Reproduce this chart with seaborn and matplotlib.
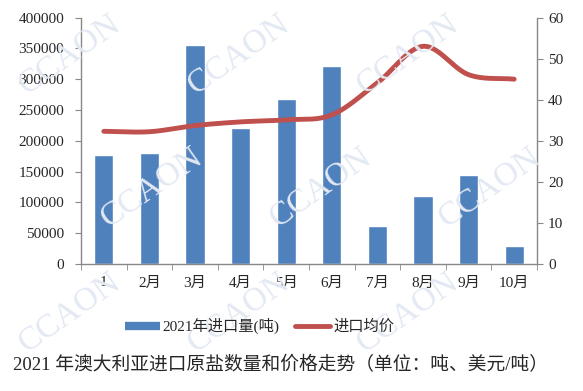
import numpy as np
import matplotlib
matplotlib.use('Agg')
import matplotlib.pyplot as plt
import seaborn as sns
from matplotlib.lines import Line2D

# --- DATA ---
months = ['1', '2月', '3月', '4月', '5月', '6月', '7月', '8月', '9月', '10月']
volume = [177000, 180500, 355000, 221000, 267000, 322000, 62000, 110500, 145000, 29500]
price = [32.3, 32.2, 33.7, 34.6, 35.1, 36.3, 44.1, 53.0, 46.1, 45.0]

BAR_COLOR = '#4F81BD'
LINE_COLOR = '#C0504D'
AXIS_COLOR = '#888888'

sns.set_style('white')
plt.rcParams['font.family'] = ['Liberation Serif', 'Noto Sans CJK SC']


def smooth(y, n=30):
    # Catmull-Rom style smoothing like Excel's smoothed line
    y = np.asarray(y, dtype=float)
    x = np.arange(len(y), dtype=float)
    p = np.concatenate([[2 * y[0] - y[1]], y, [2 * y[-1] - y[-2]]])
    xs, ys = [], []
    for i in range(len(y) - 1):
        t = np.linspace(0, 1, n, endpoint=False)
        p0, p1, p2, p3 = p[i], p[i + 1], p[i + 2], p[i + 3]
        yy = 0.5 * ((2 * p1) + (-p0 + p2) * t + (2 * p0 - 5 * p1 + 4 * p2 - p3) * t ** 2
                    + (-p0 + 3 * p1 - 3 * p2 + p3) * t ** 3)
        xs.append(x[i] + t)
        ys.append(yy)
    xs.append([x[-1]])
    ys.append([y[-1]])
    return np.concatenate(xs), np.concatenate(ys)


fig = plt.figure(figsize=(5.83, 3.91), dpi=100)
ax = fig.add_axes([0.139, 0.325, 0.782, 0.63])

# faint watermark
for wx, wy in [(0.12, 0.86), (0.41, 0.86), (0.70, 0.86),
               (0.26, 0.52), (0.55, 0.52), (0.84, 0.52),
               (0.12, 0.20), (0.41, 0.20), (0.70, 0.20)]:
    fig.text(wx, wy, 'CCAON', fontsize=24, color='#e3e9f3', rotation=35,
             ha='center', va='center', family='Liberation Serif', zorder=0)

ax.patch.set_alpha(0)
sns.barplot(x=months, y=volume, color=BAR_COLOR, width=0.42, saturation=1, ax=ax, zorder=2)
ax.set_ylim(0, 400000)
ax.set_yticks(np.arange(0, 400001, 50000))
ax.set_xlim(-0.5, len(months) - 0.5)
ax.set_xlabel('')
ax.set_ylabel('')

ax2 = ax.twinx()
sx, sy = smooth(price)
ax2.plot(sx, sy, color=LINE_COLOR, lw=3.5, solid_capstyle='round', zorder=3)
ax2.set_ylim(0, 60)
ax2.set_yticks(np.arange(0, 61, 10))

for a in (ax, ax2):
    for s in a.spines.values():
        s.set_visible(False)
ax.spines['left'].set_visible(True)
ax.spines['bottom'].set_visible(True)
ax2.spines['right'].set_visible(True)
for s in (ax.spines['left'], ax.spines['bottom'], ax2.spines['right']):
    s.set_color(AXIS_COLOR)
    s.set_linewidth(1)

ax.tick_params(axis='y', left=True, length=4, color=AXIS_COLOR, labelsize=11, pad=8)
ax2.tick_params(axis='y', right=True, length=4, color=AXIS_COLOR, labelsize=11, pad=4)
ax.set_xticks(np.arange(-0.5, len(months), 1), minor=True)
ax.tick_params(axis='x', which='major', length=0, labelsize=11, pad=9)
ax.tick_params(axis='x', which='minor', bottom=True, length=4, color=AXIS_COLOR)

handles = [Line2D([0], [0], color=BAR_COLOR, lw=6, solid_capstyle='butt'),
           Line2D([0], [0], color=LINE_COLOR, lw=3.5, solid_capstyle='round')]
fig.legend(handles, ['2021年进口量(吨)', '进口均价'], loc='center', ncol=2,
           bbox_to_anchor=(0.445, 0.166), frameon=False, fontsize=11,
           handlelength=2.3, handletextpad=0.2, columnspacing=1.0)

fig.text(0.022, 0.067, '2021 年澳大利亚进口原盐数量和价格走势（单位：吨、美元/吨）',
         fontsize=13.5, ha='left', va='center')

fig.savefig('out.png', dpi=100)
